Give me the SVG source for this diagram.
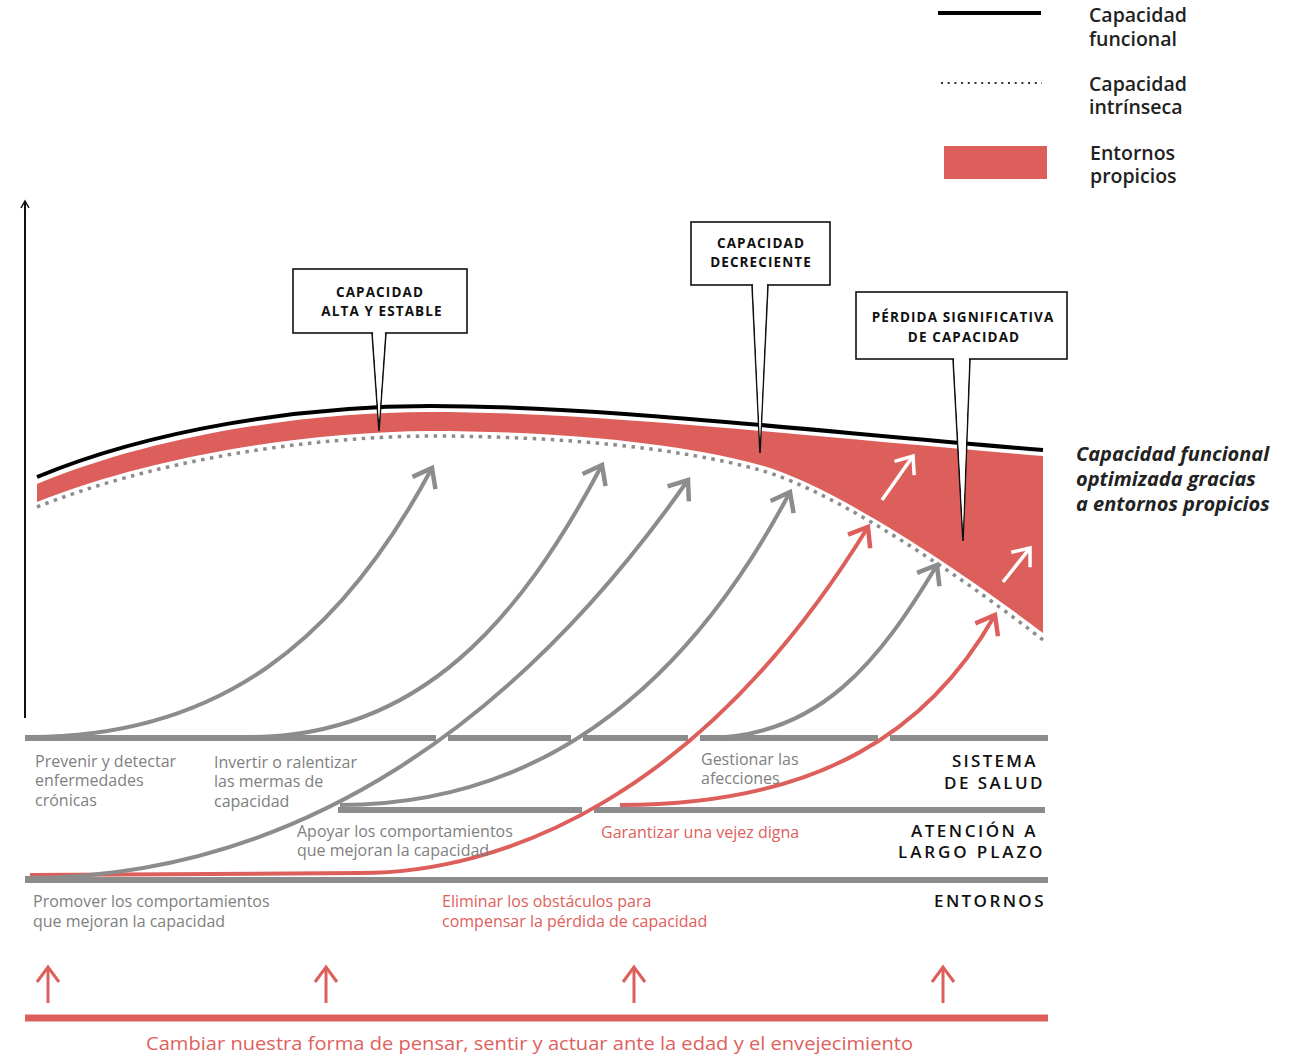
<svg xmlns="http://www.w3.org/2000/svg" width="1294" height="1054" viewBox="0 0 1294 1054">
<defs>
<style>
.t{font-family:"Open Sans","Liberation Sans",sans-serif}
.gt{font-family:"Open Sans","Liberation Sans",sans-serif;font-size:16px;fill:#808080}
.rt{font-family:"Open Sans","Liberation Sans",sans-serif;font-size:16px;fill:#e0605c}
.lg{font-family:"Open Sans","Liberation Sans",sans-serif;font-size:19.5px;font-weight:600;fill:#222}
.co{font-family:"Open Sans","Liberation Sans",sans-serif;font-size:13.5px;font-weight:700;fill:#111;letter-spacing:1.1px;text-anchor:middle}
.sec{font-family:"Open Sans","Liberation Sans",sans-serif;font-size:17px;font-weight:600;fill:#111;letter-spacing:2.5px}
.hl{stroke:#8c8c8c;stroke-width:6;fill:none}
.ga{stroke:#8c8c8c;stroke-width:4;fill:none;marker-end:url(#mg)}
.ra{stroke:#dc5f5c;stroke-width:4;fill:none;marker-end:url(#mr)}
.wa{stroke:#fff;stroke-width:3.5;fill:none;marker-end:url(#mw)}
.ba{stroke:#dc5f5c;stroke-width:3;fill:none;marker-end:url(#mb)}
.box{fill:#fff;stroke:#111;stroke-width:1.6}
</style>
<marker id="mg" markerUnits="userSpaceOnUse" viewBox="-20 -15 24 30" markerWidth="24" markerHeight="30" refX="0" refY="0" orient="auto"><path d="M-17,-13 L0,0 L-17,13" fill="none" stroke="#8c8c8c" stroke-width="4.5"/></marker>
<marker id="mr" markerUnits="userSpaceOnUse" viewBox="-20 -15 24 30" markerWidth="24" markerHeight="30" refX="0" refY="0" orient="auto"><path d="M-17,-13 L0,0 L-17,13" fill="none" stroke="#dc5f5c" stroke-width="4.5"/></marker>
<marker id="mw" markerUnits="userSpaceOnUse" viewBox="-20 -15 24 30" markerWidth="24" markerHeight="30" refX="0" refY="0" orient="auto"><path d="M-15,-12 L0,0 L-15,12" fill="none" stroke="#fff" stroke-width="3.5"/></marker>
<marker id="mb" markerUnits="userSpaceOnUse" viewBox="-20 -15 24 30" markerWidth="24" markerHeight="30" refX="0" refY="0" orient="auto"><path d="M-15,-11 L0,0 L-15,11" fill="none" stroke="#dc5f5c" stroke-width="3"/></marker>
<marker id="ax" markerUnits="userSpaceOnUse" viewBox="-10 -6 12 12" markerWidth="12" markerHeight="12" refX="0" refY="0" orient="auto"><path d="M-7,-4 L0,0 L-7,4" fill="none" stroke="#111" stroke-width="1.5"/></marker>
</defs>
<rect width="1294" height="1054" fill="#fff"/>

<g id="legend">
<line x1="938" y1="13" x2="1041" y2="13" stroke="#000" stroke-width="4"/>
<text class="lg" x="1089" y="22">Capacidad</text>
<text class="lg" x="1089" y="46">funcional</text>
<line x1="941" y1="83" x2="1042" y2="83" stroke="#333" stroke-width="2" stroke-dasharray="2 4.7"/>
<text class="lg" x="1089" y="91">Capacidad</text>
<text class="lg" x="1089" y="114">intrínseca</text>
<rect x="944" y="146" width="103" height="33" fill="#dc5f5c"/>
<text class="lg" x="1090" y="160">Entornos</text>
<text class="lg" x="1090" y="183">propicios</text>
</g>

<g id="axis">
<line x1="25" y1="718" x2="25" y2="201" stroke="#111" stroke-width="2" marker-end="url(#ax)"/>
</g>

<g id="curves">
<path id="entornos-area" d="M37,484 C150,437 300,412 430,412 C600,412 800,436 1043,456 L1043,633 C980,585 840,487 760,465 C680,443 560,431 430,431 C300,432 150,457 37,502 Z" fill="#dc5f5c"/>
<path id="capacidad-funcional" d="M37,477 C150,430 300,406 430,406 C600,406 800,430 1043,450" fill="none" stroke="#000" stroke-width="4"/>
<path id="capacidad-intrinseca" d="M37,507 C150,462 300,437 430,436 C560,436 680,448 760,470 C840,492 980,590 1043,640" fill="none" stroke="#8c8c8c" stroke-width="3.5" stroke-dasharray="3.5 5.5"/>
</g>

<g id="bands">
<path class="hl" d="M25,738 H436 M448,738 H571 M583,738 H688 M700,738 H878 M890,738 H1048"/>
<path class="hl" d="M338,810 H582 M594,810 H1045"/>
<path class="hl" d="M25,880 H1048"/>
</g>

<g id="connectors">
<path class="ga" d="M30,737 C220,737 340,640 432,468"/>
<path class="ga" d="M250,737 C420,737 520,620 602,465"/>
<path class="ra" d="M30,875 L360,873 C500,873 700,800 868,527"/>
<path class="ga" d="M25,878 C300,878 520,720 688,480"/>
<path class="ga" d="M340,805 C530,805 680,700 790,492"/>
<path class="ga" d="M705,738 C820,738 880,660 937,565"/>
<path class="ra" d="M620,805 C820,805 930,730 995,615"/>
<path class="wa" d="M882,500 L913,456"/>
<path class="wa" d="M1003,582 L1030,548"/>
<path class="ba" d="M48,1003 V967"/>
<path class="ba" d="M326,1003 V967"/>
<path class="ba" d="M634,1003 V967"/>
<path class="ba" d="M943,1003 V967"/>
<line x1="25" y1="1018" x2="1048" y2="1018" stroke="#dc5f5c" stroke-width="7"/>
</g>

<g id="callout-alta">
<polygon class="box" points="372,332 386,332 379,431"/>
<rect class="box" x="293" y="269" width="174" height="64"/>
<polygon points="373,331 385,331 379,420" fill="#fff"/>
<text class="co" x="380" y="297">CAPACIDAD</text>
<text class="co" x="382" y="316">ALTA Y ESTABLE</text>
</g>
<g id="callout-decreciente">
<polygon class="box" points="752,284 768,284 760,453"/>
<rect class="box" x="691" y="222" width="139" height="63"/>
<polygon points="753,283 767,283 760,440" fill="#fff"/>
<text class="co" x="761" y="248">CAPACIDAD</text>
<text class="co" x="761" y="267">DECRECIENTE</text>
</g>
<g id="callout-perdida">
<polygon class="box" points="953,358 970,358 963,541"/>
<rect class="box" x="856" y="292" width="211" height="67"/>
<polygon points="954,357 969,357 963,528" fill="#fff"/>
<text class="co" x="963" y="322">PÉRDIDA SIGNIFICATIVA</text>
<text class="co" x="964" y="342">DE CAPACIDAD</text>
</g>

<g id="label-optimizada">
<text class="t" x="1076" y="461" font-size="20" font-weight="700" font-style="italic" fill="#222">Capacidad funcional</text>
<text class="t" x="1076" y="486" font-size="20" font-weight="700" font-style="italic" fill="#222">optimizada gracias</text>
<text class="t" x="1076" y="511" font-size="20" font-weight="700" font-style="italic" fill="#222">a entornos propicios</text>
</g>

<g id="sections">
<text class="sec" x="952" y="767" textLength="86">SISTEMA</text>
<text class="sec" x="944" y="789" textLength="101">DE SALUD</text>
<text class="sec" x="911" y="837" textLength="127">ATENCIÓN A</text>
<text class="sec" x="898" y="858" textLength="147">LARGO PLAZO</text>
<text class="sec" x="934" y="907" textLength="112">ENTORNOS</text>
</g>

<g id="labels">
<text class="gt" x="35" y="767">Prevenir y detectar</text>
<text class="gt" x="35" y="786">enfermedades</text>
<text class="gt" x="35" y="806">crónicas</text>
<text class="gt" x="214" y="768">Invertir o ralentizar</text>
<text class="gt" x="214" y="787">las mermas de</text>
<text class="gt" x="214" y="807">capacidad</text>
<text class="gt" x="297" y="837">Apoyar los comportamientos</text>
<text class="gt" x="297" y="856">que mejoran la capacidad</text>
<text class="gt" x="701" y="765">Gestionar las</text>
<text class="gt" x="701" y="784">afecciones</text>
<text class="gt" x="33" y="907">Promover los comportamientos</text>
<text class="gt" x="33" y="927">que mejoran la capacidad</text>
<text class="rt" x="601" y="838">Garantizar una vejez digna</text>
<text class="rt" x="442" y="907">Eliminar los obstáculos para</text>
<text class="rt" x="442" y="927">compensar la pérdida de capacidad</text>
<text class="t" x="146" y="1050" font-size="18.5" fill="#e0605c" textLength="767" lengthAdjust="spacingAndGlyphs">Cambiar nuestra forma de pensar, sentir y actuar ante la edad y el envejecimiento</text>
</g>
</svg>
